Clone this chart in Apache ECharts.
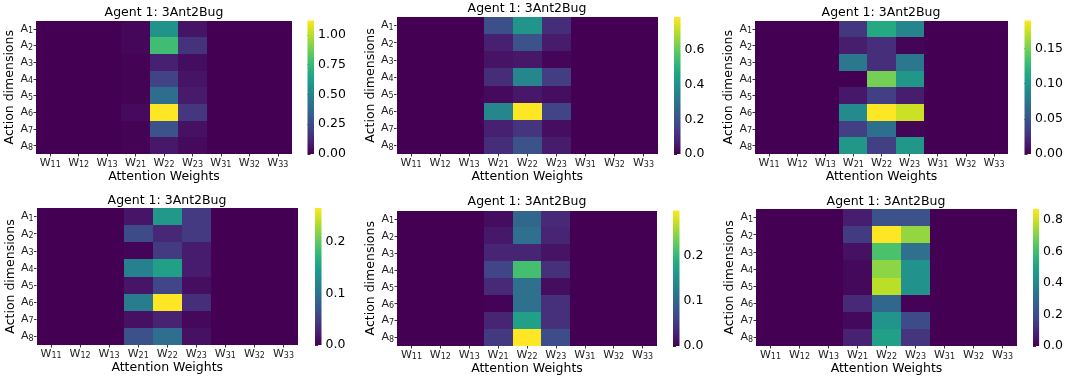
<!DOCTYPE html>
<html>
<head>
<meta charset="utf-8">
<style>
  html, body { margin: 0; padding: 0; background: #ffffff; }
  #chart { width: 1066px; height: 381px; }
</style>
<script src="https://cdn.jsdelivr.net/npm/echarts@6/dist/echarts.min.js"></script>
</head>
<body>
<div id="chart"></div>
<script>
// Axis categories (rendered with subscripts)
const weightCats = ['W11', 'W12', 'W13', 'W21', 'W22', 'W23', 'W31', 'W32', 'W33'];
const actionCats = ['A1', 'A2', 'A3', 'A4', 'A5', 'A6', 'A7', 'A8'];
const panelTitle = 'Agent 1: 3Ant2Bug';

// Attention maps: one row per action dimension, one column per weight
const attn1 = [
  [0, 0, 0, 0.020, 0.570, 0.060, 0, 0, 0],
  [0, 0, 0, 0.020, 0.770, 0.160, 0, 0, 0],
  [0, 0, 0, 0.005, 0.100, 0.040, 0, 0, 0],
  [0, 0, 0, 0.005, 0.220, 0.060, 0, 0, 0],
  [0, 0, 0, 0.005, 0.400, 0.080, 0, 0, 0],
  [0, 0, 0, 0.030, 1.120, 0.180, 0, 0, 0],
  [0, 0, 0, 0.005, 0.280, 0.050, 0, 0, 0],
  [0, 0, 0, 0.005, 0.070, 0.030, 0, 0, 0]
];
const attn2 = [
  [0, 0, 0, 0.190, 0.410, 0.100, 0, 0, 0],
  [0, 0, 0, 0.070, 0.200, 0.060, 0, 0, 0],
  [0, 0, 0, 0.040, 0.050, 0.010, 0, 0, 0],
  [0, 0, 0, 0.100, 0.360, 0.140, 0, 0, 0],
  [0, 0, 0, 0.020, 0.050, 0.030, 0, 0, 0],
  [0, 0, 0, 0.360, 0.790, 0.160, 0, 0, 0],
  [0, 0, 0, 0.070, 0.120, 0.030, 0, 0, 0],
  [0, 0, 0, 0.100, 0.200, 0.060, 0, 0, 0]
];
const attn3 = [
  [0, 0, 0, 0.030, 0.115, 0.085, 0, 0, 0],
  [0, 0, 0, 0.015, 0.025, 0.002, 0, 0, 0],
  [0, 0, 0, 0.075, 0.025, 0.075, 0, 0, 0],
  [0, 0, 0, 0.000, 0.150, 0.100, 0, 0, 0],
  [0, 0, 0, 0.012, 0.035, 0.015, 0, 0, 0],
  [0, 0, 0, 0.090, 0.190, 0.175, 0, 0, 0],
  [0, 0, 0, 0.035, 0.070, 0.002, 0, 0, 0],
  [0, 0, 0, 0.100, 0.035, 0.100, 0, 0, 0]
];
const attn4 = [
  [0, 0, 0, 0.015, 0.140, 0.045, 0, 0, 0],
  [0, 0, 0, 0.060, 0.030, 0.045, 0, 0, 0],
  [0, 0, 0, 0.003, 0.045, 0.020, 0, 0, 0],
  [0, 0, 0, 0.115, 0.150, 0.020, 0, 0, 0],
  [0, 0, 0, 0.015, 0.055, 0.010, 0, 0, 0],
  [0, 0, 0, 0.110, 0.265, 0.035, 0, 0, 0],
  [0, 0, 0, 0.012, 0.025, 0.005, 0, 0, 0],
  [0, 0, 0, 0.065, 0.095, 0.012, 0, 0, 0]
];
const attn5 = [
  [0, 0, 0, 0.010, 0.100, 0.035, 0, 0, 0],
  [0, 0, 0, 0.020, 0.110, 0.030, 0, 0, 0],
  [0, 0, 0, 0.030, 0.030, 0.015, 0, 0, 0],
  [0, 0, 0, 0.060, 0.210, 0.040, 0, 0, 0],
  [0, 0, 0, 0.035, 0.110, 0.010, 0, 0, 0],
  [0, 0, 0, 0.002, 0.110, 0.040, 0, 0, 0],
  [0, 0, 0, 0.030, 0.170, 0.040, 0, 0, 0],
  [0, 0, 0, 0.050, 0.300, 0.070, 0, 0, 0]
];
const attn6 = [
  [0, 0, 0, 0.070, 0.220, 0.220, 0, 0, 0],
  [0, 0, 0, 0.150, 0.870, 0.730, 0, 0, 0],
  [0, 0, 0, 0.040, 0.620, 0.320, 0, 0, 0],
  [0, 0, 0, 0.020, 0.720, 0.440, 0, 0, 0],
  [0, 0, 0, 0.020, 0.780, 0.440, 0, 0, 0],
  [0, 0, 0, 0.100, 0.290, 0.005, 0, 0, 0],
  [0, 0, 0, 0.020, 0.450, 0.200, 0, 0, 0],
  [0, 0, 0, 0.080, 0.490, 0.130, 0, 0, 0]
];

// Colorbar tick values and label precision per panel
const cbTicks1 = [0, 0.25, 0.5, 0.75, 1.0];
const cbTicks2 = [0, 0.2, 0.4, 0.6];
const cbTicks3 = [0, 0.05, 0.1, 0.15];
const cbTicks4 = [0, 0.1, 0.2];
const cbTicks5 = [0, 0.1, 0.2];
const cbTicks6 = [0, 0.2, 0.4, 0.6, 0.8];
const cbDecimals = [2, 1, 2, 1, 1, 1];

// Viridis colour stops
const viridis = ['#440154', '#482475', '#414487', '#355f8d', '#2a788e', '#21918c',
                 '#22a884', '#44bf70', '#7ad151', '#bddf26', '#fde725'];

const panels = [
  { data: attn1, ticks: cbTicks1, grid: { left: 36, top: 20.5, width: 256, height: 133.5 }, cbLeft: 307.5, title: [164, 6] },
  { data: attn2, ticks: cbTicks2, grid: { left: 396.5, top: 17, width: 261.5, height: 137 }, cbLeft: 674, title: [527, 2] },
  { data: attn3, ticks: cbTicks3, grid: { left: 755, top: 20.5, width: 253, height: 133.5 }, cbLeft: 1024.5, title: [881, 6] },
  { data: attn4, ticks: cbTicks4, grid: { left: 36.5, top: 208, width: 261.5, height: 137 }, cbLeft: 315, title: [167, 194] },
  { data: attn5, ticks: cbTicks5, grid: { left: 397, top: 210.5, width: 260, height: 135.5 }, cbLeft: 673, title: [527, 195] },
  { data: attn6, ticks: cbTicks6, grid: { left: 756, top: 209, width: 261, height: 137 }, cbLeft: 1033, title: [886, 195] }
];

const FONT = 'DejaVu Sans';
const subRich = {
  m: { fontSize: 11, fontFamily: FONT, color: '#222' },
  s: { fontSize: 8, fontFamily: FONT, color: '#222', verticalAlign: 'bottom', padding: [4, 0, 0, 0] }
};
const subFormatter = v => '{m|' + v.charAt(0) + '}{s|' + v.slice(1) + '}';

// One rectangle per cell, edges snapped to whole pixels so neighbours share borders
const renderCell = (params, api) => {
  const c = api.coord([api.value(0), api.value(1)]);
  const s = api.size([1, 1]);
  const x0 = Math.round(c[0] - s[0] / 2), x1 = Math.round(c[0] + s[0] / 2);
  const y0 = Math.round(c[1] - s[1] / 2), y1 = Math.round(c[1] + s[1] / 2);
  return {
    type: 'rect',
    shape: { x: x0, y: y0, width: x1 - x0, height: y1 - y0 },
    style: { fill: api.visual('color'), stroke: null, lineWidth: 0 }
  };
};

const grids = [], xAxes = [], yAxes = [], series = [], visualMaps = [], titles = [];

panels.forEach((p, i) => {
  const cells = [];
  let vmax = 0;
  p.data.forEach((row, r) => row.forEach((v, c) => {
    cells.push([c, r, v]);
    if (v > vmax) vmax = v;
  }));

  // heatmap grid
  const hg = grids.length;
  grids.push(Object.assign({ containLabel: false }, p.grid));
  xAxes.push({
    type: 'category', gridIndex: hg, data: weightCats,
    name: 'Attention Weights', nameLocation: 'middle', nameGap: 12,
    nameTextStyle: { fontSize: 12.5, fontFamily: FONT, color: '#000', verticalAlign: 'top' },
    axisLine: { show: false },
    axisTick: { show: true, length: 2.5, alignWithLabel: true, lineStyle: { color: '#333' } },
    axisLabel: { margin: 3, formatter: subFormatter, rich: subRich, interval: 0 },
    splitLine: { show: false }
  });
  yAxes.push({
    type: 'category', gridIndex: hg, data: actionCats, inverse: true,
    name: 'Action dimensions', nameLocation: 'middle', nameGap: 15, nameRotate: 90,
    nameTextStyle: { fontSize: 12.5, fontFamily: FONT, color: '#000' },
    axisLine: { show: false },
    axisTick: { show: true, length: 2.5, alignWithLabel: true, lineStyle: { color: '#333' } },
    axisLabel: { margin: 3, formatter: subFormatter, rich: subRich, interval: 0 },
    splitLine: { show: false }
  });
  const hs = series.length;
  series.push({
    type: 'custom', xAxisIndex: hg, yAxisIndex: hg, data: cells, silent: true,
    encode: { x: 0, y: 1 }, renderItem: renderCell
  });
  visualMaps.push({
    type: 'continuous', show: false, seriesIndex: hs, dimension: 2,
    min: 0, max: vmax, inRange: { color: viridis }
  });

  // colorbar grid, drawn on its own value axis
  const cg = grids.length;
  grids.push({ left: p.cbLeft, top: p.grid.top, width: 6.5, height: p.grid.height, containLabel: false });
  xAxes.push({ type: 'value', gridIndex: cg, min: 0, max: 1, show: false });
  const dec = cbDecimals[i];
  yAxes.push({
    type: 'value', gridIndex: cg, position: 'right', min: 0, max: vmax,
    axisLine: { show: false }, splitLine: { show: false },
    axisTick: { show: true, length: 3, customValues: p.ticks, lineStyle: { color: '#333' } },
    axisLabel: {
      margin: 4, customValues: p.ticks, fontSize: 12.5, fontFamily: FONT, color: '#000',
      formatter: v => v.toFixed(dec)
    }
  });
  series.push({
    type: 'custom', xAxisIndex: cg, yAxisIndex: cg, data: [[0, vmax]], silent: true,
    renderItem: (params, api) => {
      const lo = api.coord([0, 0]);
      const hi = api.coord([1, api.value(1)]);
      return {
        type: 'rect',
        shape: { x: lo[0], y: hi[1], width: hi[0] - lo[0], height: lo[1] - hi[1] },
        style: {
          fill: {
            type: 'linear', x: 0, y: 1, x2: 0, y2: 0,
            colorStops: viridis.map((c, k) => ({ offset: k / (viridis.length - 1), color: c }))
          }
        }
      };
    }
  });

  titles.push({
    text: panelTitle, left: p.title[0], top: p.title[1], textAlign: 'center', padding: 0,
    textStyle: { fontSize: 12.5, fontWeight: 'normal', fontFamily: FONT, color: '#000' }
  });
});

const chart = echarts.init(document.getElementById('chart'), null, { renderer: 'canvas' });
chart.setOption({
  animation: false,
  backgroundColor: '#ffffff',
  title: titles,
  grid: grids,
  xAxis: xAxes,
  yAxis: yAxes,
  visualMap: visualMaps,
  series: series
});
</script>
</body>
</html>
